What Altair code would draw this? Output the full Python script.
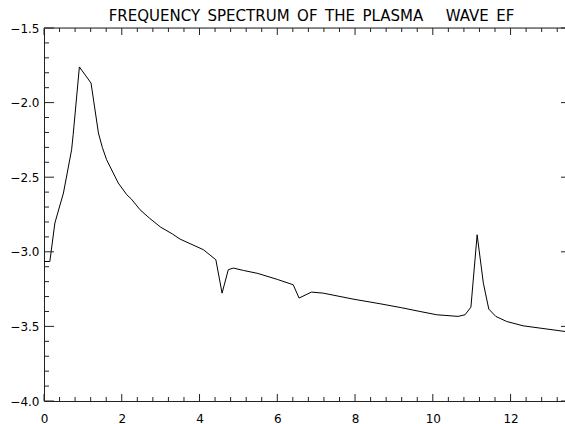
import altair as alt
import pandas as pd

# spectrum values
freq = [0.00, 0.15, 0.28, 0.50, 0.71, 0.75, 0.91, 1.21, 1.40, 1.50, 1.61, 1.91, 2.13, 2.25,
        2.47, 2.71, 3.00, 3.30, 3.50, 4.10, 4.42, 4.58, 4.74, 4.87, 5.13, 5.50, 6.00,
        6.41, 6.56, 6.88, 7.18, 7.95, 8.64, 9.20, 9.67, 10.10, 10.65, 10.83, 10.98,
        11.14, 11.30, 11.44, 11.62, 11.90, 12.32, 13.40]
power = [-3.065, -3.065, -2.807, -2.606, -2.316, -2.215, -1.761, -1.869, -2.204, -2.300,
         -2.383, -2.539, -2.618, -2.647, -2.718, -2.774, -2.835, -2.880, -2.915, -2.986,
         -3.053, -3.277, -3.120, -3.109, -3.125, -3.145, -3.185, -3.221, -3.310, -3.270,
         -3.277, -3.317, -3.348, -3.375, -3.400, -3.422, -3.433, -3.422, -3.371, -2.886,
         -3.210, -3.384, -3.433, -3.467, -3.496, -3.534]

x_major = [0, 2, 4, 6, 8, 10, 12]
x_minor = [0.4, 0.8, 1.2, 1.6, 2.4, 2.8, 3.2, 3.6, 4.4, 4.8, 5.2, 5.6, 6.4, 6.8, 7.2, 7.6,
           8.4, 8.8, 9.2, 9.6, 10.4, 10.8, 11.2, 11.6, 12.4, 12.8, 13.2]
y_major = [-4.0, -3.5, -3.0, -2.5, -2.0, -1.5]
y_minor = [-3.9, -3.8, -3.7, -3.6, -3.4, -3.3, -3.2, -3.1, -2.9, -2.8, -2.7, -2.6,
           -2.4, -2.3, -2.2, -2.1, -1.9, -1.8, -1.7, -1.6]

title_words = ["FREQUENCY", "SPECTRUM", "OF", "THE", "PLASMA", "", "", "WAVE", "EF"]

XMAX = 13.4
YMIN, YMAX = -4.0, -1.5
FONT = "DejaVu Sans"
AX = "#222222"

df = pd.DataFrame({"f": freq, "p": power})
xs = alt.Scale(domain=[0, XMAX], nice=False, zero=False)
ys = alt.Scale(domain=[YMIN, YMAX], nice=False, zero=False)

xaxis = alt.Axis(values=x_major, format="d", ticks=False, grid=False, title=None,
                 labelFont=FONT, labelFontSize=12, labelColor="black", labelPadding=12,
                 domainColor=AX, labelFlush=False)
yaxis = alt.Axis(values=y_major, format=".1f", ticks=False, grid=False, title=None,
                 labelFont=FONT, labelFontSize=12, labelColor="black", labelPadding=5,
                 domainColor=AX)

line = alt.Chart(df).mark_line(color="black", strokeWidth=1, clip=True).encode(
    x=alt.X("f:Q", scale=xs, axis=xaxis),
    y=alt.Y("p:Q", scale=ys, axis=yaxis),
)

def vticks(vals, at, length):
    d = pd.DataFrame({"v": vals})
    return alt.Chart(d).mark_rule(color=AX, strokeWidth=1, y2Offset=length).encode(
        x=alt.X("v:Q", scale=xs), y=alt.datum(at), y2=alt.datum(at))

def hticks(vals, at, length):
    d = pd.DataFrame({"v": vals})
    return alt.Chart(d).mark_rule(color=AX, strokeWidth=1, x2Offset=length).encode(
        y=alt.Y("v:Q", scale=ys), x=alt.datum(at), x2=alt.datum(at))

top_line = alt.Chart(pd.DataFrame({"a": [0]})).mark_rule(color=AX, strokeWidth=1).encode(
    x=alt.datum(0), x2=alt.datum(XMAX), y=alt.datum(YMAX))

layers = [
    line,
    top_line,
    vticks(x_major, YMIN, -7), vticks(x_minor, YMIN, -4),
    vticks(x_major, YMAX, 7), vticks(x_minor, YMAX, 4),
    hticks(y_major, 0, 10), hticks(y_minor, 0, 5),
    hticks(y_major, XMAX, -4),
]

title_text = "\u2002".join(title_words)

chart = alt.layer(*layers).properties(
    width=521, height=373,
    title=alt.TitleParams(title_text,
                          font=FONT, fontSize=15, fontWeight="normal", color="black",
                          anchor="middle", dx=7, dy=14, offset=0, baseline="alphabetic"),
    autosize=alt.AutoSizeParams(type="none"),
    padding={"left": 44, "top": 28, "right": 0, "bottom": 23},
).configure_view(stroke=None).configure(background="white")

chart.save("out.html", embed_options={"renderer": "svg", "actions": False})
